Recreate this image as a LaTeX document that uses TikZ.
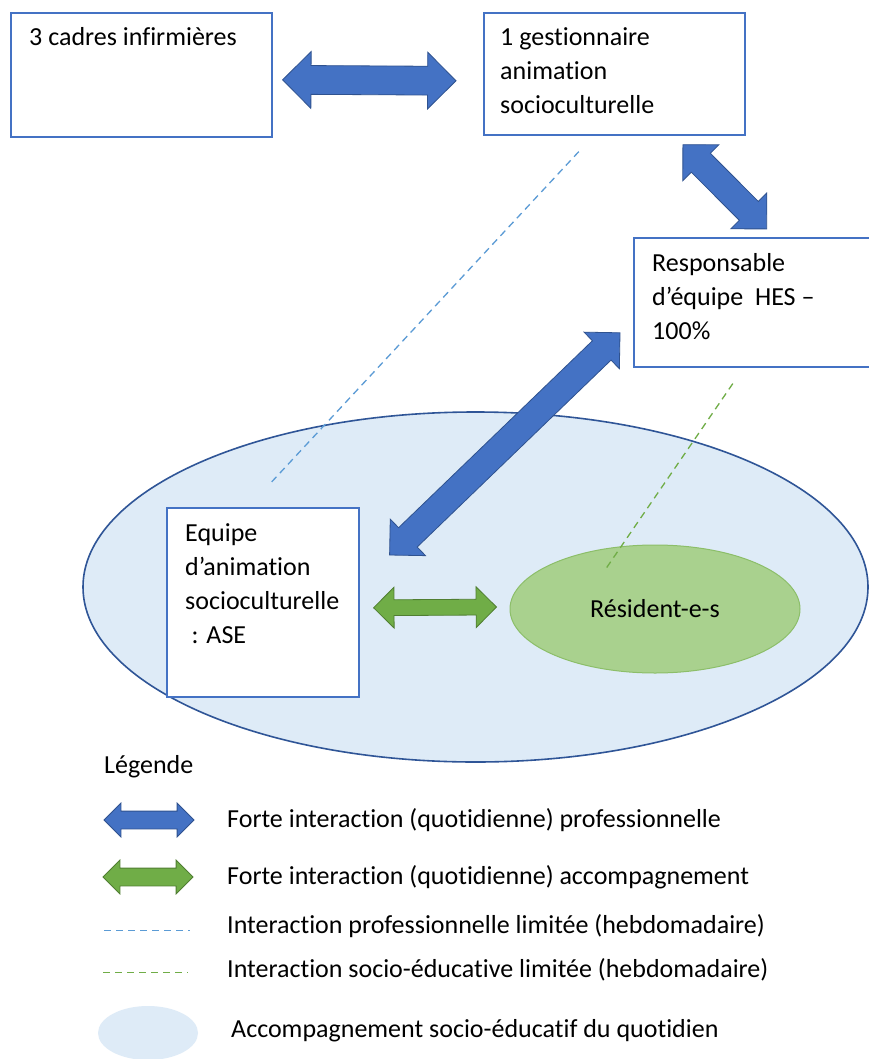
\documentclass[tikz,border=0pt]{standalone}
\usepackage{fontspec}
\setmainfont{Carlito}[Ligatures=NoCommon]
\usepackage{tikz}
\usetikzlibrary{
	calc,
	positioning,
	shapes.geometric,
	shapes.arrows
}
\definecolor{BoxBlue}{RGB}{68,114,196}
\definecolor{EdgeBlue}{RGB}{47,82,143}
\definecolor{ZoneBlue}{RGB}{222,235,247}
\definecolor{ZoneEdge}{RGB}{47,85,151}
\definecolor{LeafGreen}{RGB}{112,173,71}
\definecolor{EdgeGreen}{RGB}{80,126,50}
\definecolor{SoftGreen}{RGB}{169,209,142}
\definecolor{RimGreen}{RGB}{140,190,105}
\definecolor{DashBlue}{RGB}{91,155,213}

% double block arrow between two named points
\newcommand{\blockarrow}[3]{%
	\path let \p1=($(#3)-(#2)$), \n1={veclen(\x1,\y1)}, \n2={atan2(\y1,\x1)} in
		node[#1, minimum height=\n1, rotate=\n2] at ($(#2)!0.5!(#3)$) {};}

\begin{document}
\begin{tikzpicture}[x=1pt, y=-1pt,
		font=\fontsize{26}{34}\selectfont,
		box/.style={draw=BoxBlue, line width=1.6pt, fill=white, anchor=north west, inner sep=0pt},
		boxtext/.style={anchor=north west, align=left, inner sep=0pt, xshift=19pt, yshift=-10pt},
		proarrow/.style={double arrow, double arrow head extend=12pt, inner xsep=0pt, inner ysep=13pt,
			fill=BoxBlue, draw=EdgeBlue, line width=0.8pt},
		accarrow/.style={double arrow, double arrow head extend=12pt, inner xsep=0pt, inner ysep=7.5pt,
			fill=LeafGreen, draw=EdgeGreen, line width=0.8pt},
		prodash/.style={DashBlue, line width=1.3pt, dash pattern=on 7pt off 5pt},
		accdash/.style={LeafGreen, line width=1.3pt, dash pattern=on 7pt off 5pt},
		legtext/.style={anchor=west, inner sep=0pt}]
	\path[use as bounding box, fill=white] (0,0) rectangle (869,1059);
	
	% zone du quotidien
	\node[ellipse, draw=ZoneEdge, fill=ZoneBlue, line width=1.6pt,
		minimum width=785, minimum height=350] (accomp) at (475.5,587) {};
	\node[ellipse, draw=RimGreen, fill=SoftGreen, line width=1pt,
		minimum width=290, minimum height=128, inner sep=0pt] (residents) at (655,609) {Résident-e-s};
	
	% cadres et responsables
	\node[box, minimum width=261, minimum height=124,
		label={[boxtext]north west:{\strut 3 cadres infirmières}}] (cadres) at (10,12) {};
	\node[box, minimum width=261, minimum height=122,
		label={[boxtext, xshift=-2pt]north west:{\strut 1 gestionnaire\\animation\\socioculturelle}}] (gestion) at (483,12) {};
	\node[box, minimum width=236, minimum height=129,
		label={[boxtext]north west:{\strut Responsable\\d’équipe~ HES –\\100\%}}] (resp) at (633,237) {};
	\node[box, minimum width=192, minimum height=189,
		label={[boxtext]north west:{\strut Equipe\\d’animation\\socioculturelle\\\hspace{0.25em}: ASE}}] (equipe) at (166,507) {};
	
	% interactions limitées
	\coordinate (g1) at ($(gestion.south)+(-35.5,16)$);
	\coordinate (e1) at ($(equipe.north)+(6,-22)$);
	\draw[prodash] (g1) -- (e1);
	\coordinate (r1) at ($(resp.south)+(-19,16)$);
	\coordinate (s1) at ($(residents.center)+(-50,-39)$);
	\draw[accdash] (r1) -- (s1);
	
	% interactions fortes
	\coordinate (c1) at ($(cadres.east)+(10,5)$);
	\coordinate (c2) at ($(gestion.west)+(-27,7)$);
	\blockarrow{proarrow, inner ysep=14pt, double arrow head extend=14pt}{c1}{c2}
	\coordinate (g2) at ($(gestion.south)+(68.5,9)$);
	\coordinate (r2) at ($(resp.north)+(15,-8)$);
	\blockarrow{proarrow}{g2}{r2}
	\coordinate (r3) at ($(resp.west)+(-13,30.5)$);
	\coordinate (e3) at ($(equipe.north east)+(30,48)$);
	\blockarrow{proarrow}{r3}{e3}
	\coordinate (e4) at ($(equipe.east)+(14,5.5)$);
	\coordinate (s4) at ($(residents.west)+(-13,-2)$);
	\blockarrow{accarrow, double arrow head extend=12.5pt}{e4}{s4}
	
	% légende
	\node[legtext] (legende) at (104,767) {Légende};
	\coordinate (l1a) at (104,820);
	\coordinate (l1b) at (194,820);
	\blockarrow{proarrow, inner ysep=8.5pt, double arrow head extend=8pt}{l1a}{l1b}
	\node[legtext] (leg1) at (227,820) {Forte interaction (quotidienne) professionnelle};
	\coordinate (l2a) at (103,877);
	\coordinate (l2b) at (193,877);
	\blockarrow{accarrow, inner ysep=8.5pt, double arrow head extend=8pt}{l2a}{l2b}
	\node[legtext] (leg2) at (227,877) {Forte interaction (quotidienne) accompagnement};
	\draw[prodash, line width=1pt] (104,930) -- (190,930);
	\node[legtext] (leg3) at (227,926) {Interaction professionnelle limitée (hebdomadaire)};
	\draw[accdash, line width=1pt] (103,972) -- (188,972);
	\node[legtext] (leg4) at (227,970) {Interaction socio-éducative limitée (hebdomadaire)};
	\fill[ZoneBlue] (148,1033) ellipse (50 and 27);
	\node[legtext] (leg5) at (231,1031) {Accompagnement socio-éducatif du quotidien};
\end{tikzpicture}
\end{document}
